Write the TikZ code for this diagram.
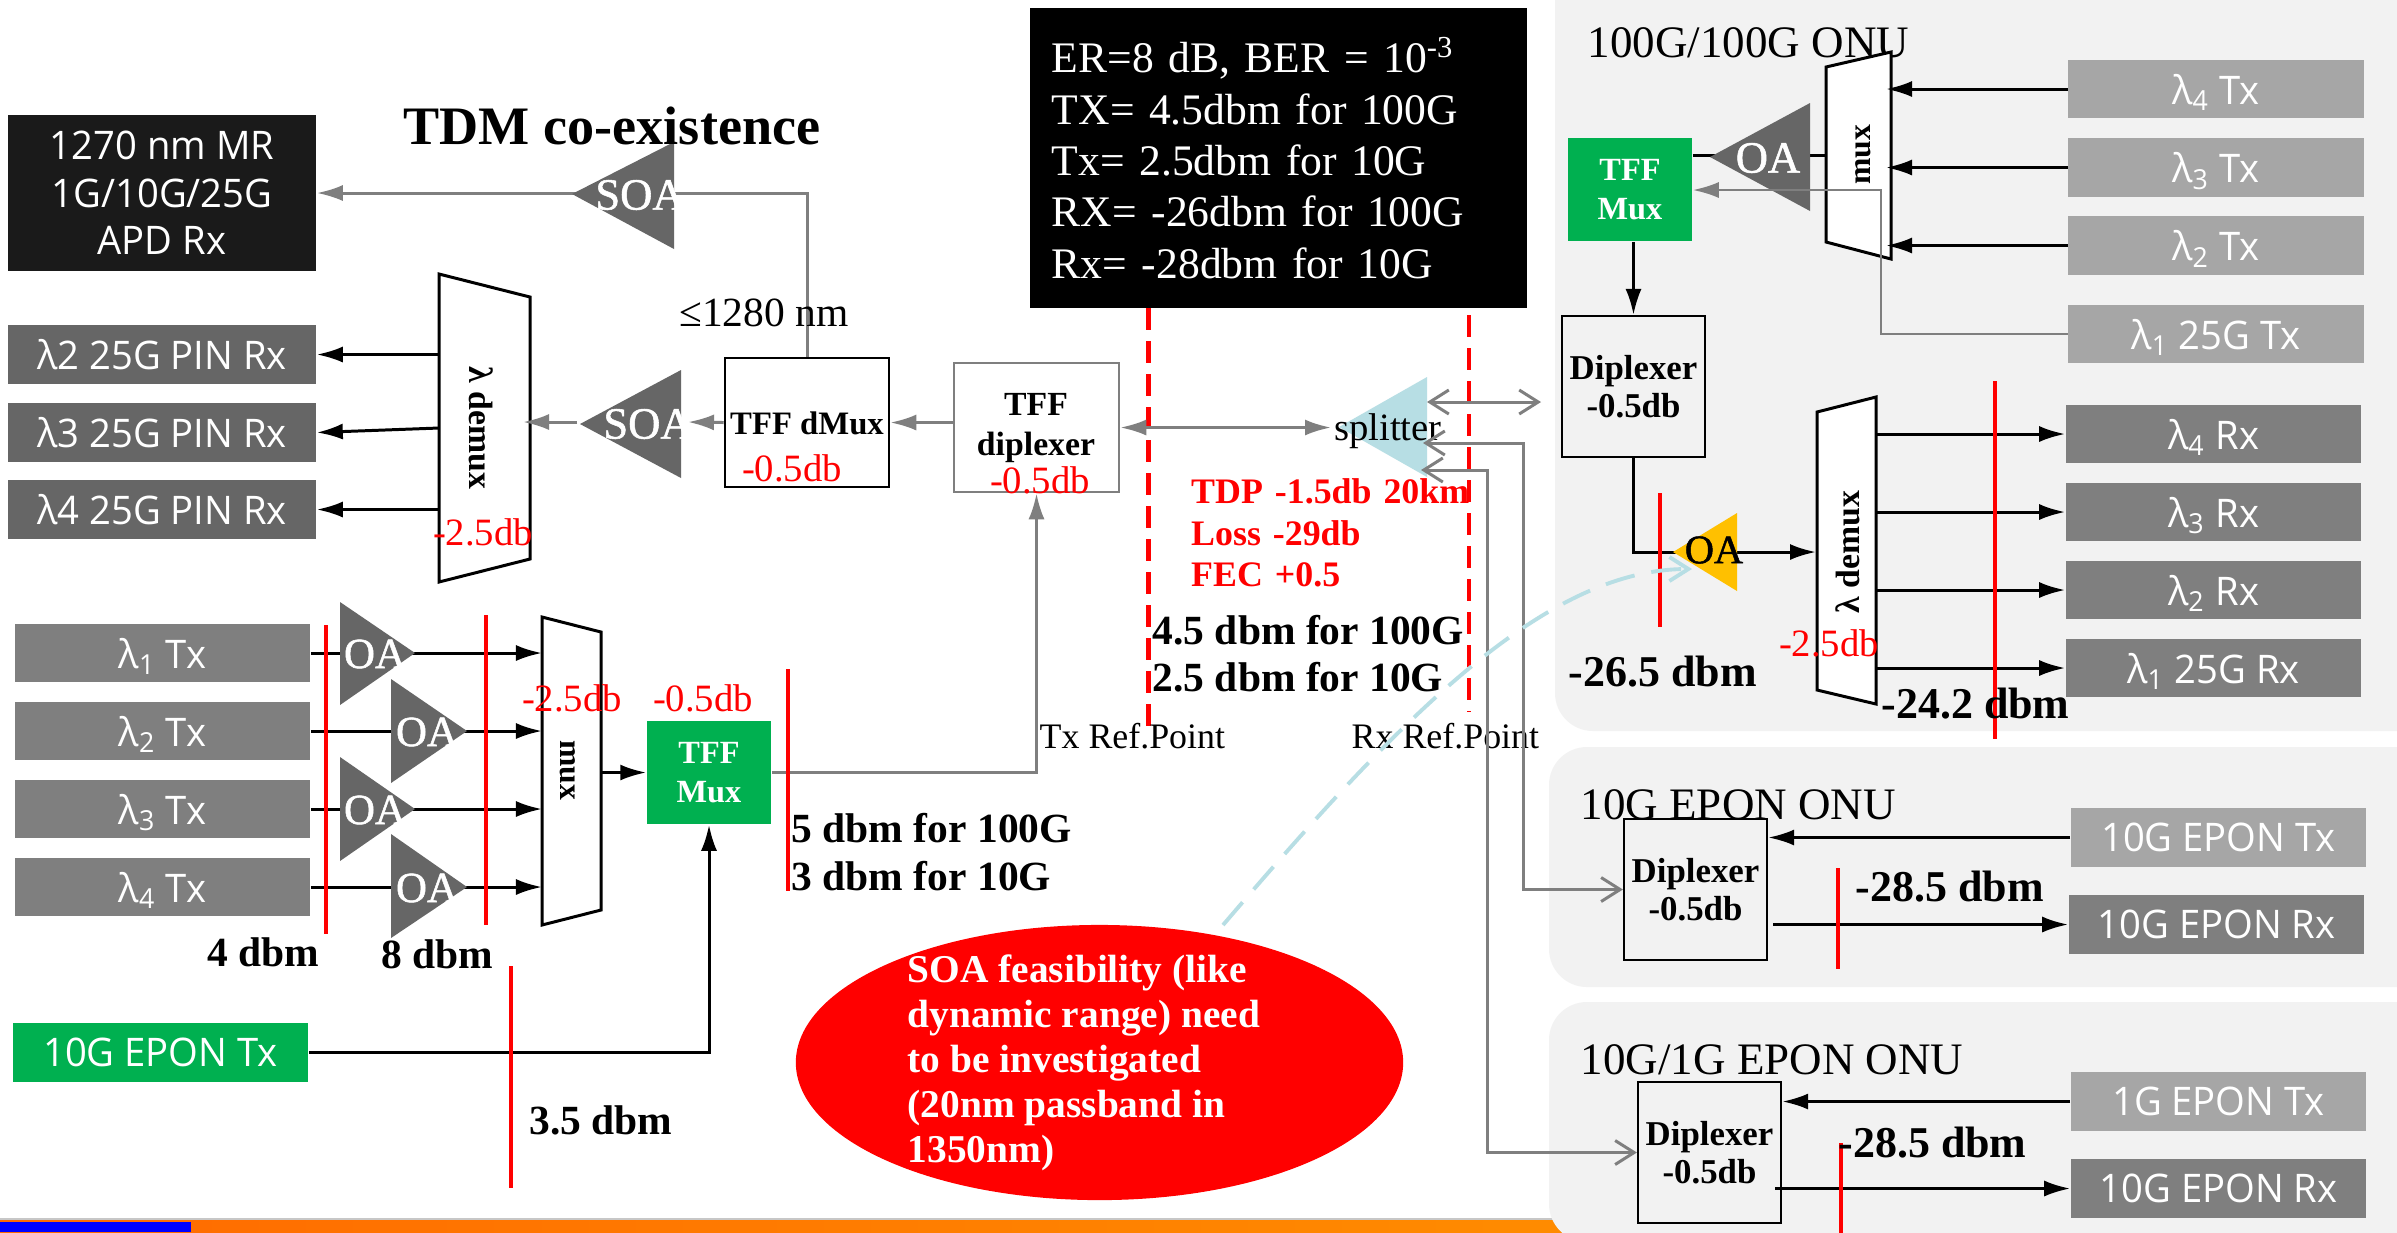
\documentclass[tikz,border=0pt]{standalone}
\usepackage{fontspec}
\setmainfont{Liberation Serif}
\newfontfamily\boxfont[FakeStretch=0.97]{Open Sans}
\newfontfamily\ampfont[FakeBold=1.2]{Liberation Serif}
\usepackage{xcolor}
\usepackage{tikz}
\usetikzlibrary{arrows.meta,positioning,calc,shapes.geometric}
\definecolor{ink}{RGB}{0,0,0}
\definecolor{midgray}{RGB}{127,127,127}
\definecolor{lightbox}{RGB}{166,166,166}
\definecolor{darkbox}{RGB}{102,102,102}
\definecolor{mrbox}{RGB}{26,26,26}
\definecolor{tffgreen}{RGB}{0,176,80}
\definecolor{panel}{RGB}{242,242,242}
\definecolor{ampgold}{RGB}{255,192,0}
\definecolor{splitblue}{RGB}{183,222,228}
\definecolor{barorange}{RGB}{255,140,0}
\definecolor{deeporange}{RGB}{255,106,0}
\tikzset{
  sigline/.style={line width=.85pt,ink,-{Latex[length=2.6mm,width=1.6mm]}},
  plainline/.style={line width=.85pt,ink},
  grayline/.style={line width=.85pt,midgray,-{Latex[length=2.6mm,width=1.6mm]}},
  grayboth/.style={line width=.85pt,midgray,{Latex[length=2.6mm,width=1.6mm]}-{Latex[length=2.6mm,width=1.6mm]}},
  openboth/.style={line width=.85pt,midgray,{Straight Barb[length=1.9mm,width=2.4mm]}-{Straight Barb[length=1.9mm,width=2.4mm]}},
  refcut/.style={line width=1pt,red},
  refdash/.style={line width=1.3pt,red,dash pattern=on .22cm off .11cm},
  note/.style={line width=1.1pt,splitblue,dash pattern=on .3cm off .17cm,-{Straight Barb[length=1.9mm,width=2.4mm]}},
  muxshape/.style={line width=.85pt,ink,fill=white},
  ampfill/.style={fill=darkbox},
  boxtext/.style={font=\boxfont\fontsize{11.2}{13.5}\selectfont,text=white,align=center,inner sep=0pt},
  txleft/.style={boxtext,text depth=0pt,fill=midgray,minimum width=2.95cm,minimum height=.58cm},
  rxleft/.style={boxtext,text depth=0pt,fill=darkbox,minimum width=3.08cm,minimum height=.59cm},
  txright/.style={boxtext,text depth=0pt,fill=lightbox,minimum width=2.95cm,minimum height=.585cm},
  rxright/.style={boxtext,text depth=0pt,fill=midgray,minimum width=2.95cm,minimum height=.585cm},
  tffbox/.style={fill=tffgreen,text=white,font=\fontsize{9.2}{11.2}\selectfont\bfseries,align=center,inner sep=0pt},
  dipbox/.style={draw=ink,line width=.6pt,font=\fontsize{9.9}{11}\selectfont\bfseries,align=center,inner sep=0pt,
    minimum width=1.43cm,minimum height=1.41cm},
  redsmall/.style={font=\fontsize{11}{13}\selectfont,text=red,inner sep=0pt},
  dbmtext/.style={font=\fontsize{11.8}{13}\selectfont\bfseries,text=ink,inner sep=0pt},
  rxdbm/.style={font=\fontsize{12.5}{14}\selectfont\bfseries,text=ink,inner sep=0pt},
  onutitle/.style={font=\fontsize{12.8}{14}\selectfont,text=ink,inner sep=0pt,anchor=west},
  ampname/.style={font=\ampfont\fontsize{12.2}{14}\selectfont,text=white,inner sep=0pt},
  soaname/.style={font=\ampfont\fontsize{12.7}{14}\selectfont,text=white,inner sep=0pt},
  muxname/.style={font=\fontsize{9.6}{11}\selectfont\bfseries,text=ink,inner sep=0pt},
  reftext/.style={font=\fontsize{10.2}{12}\selectfont,text=ink,inner sep=0pt}
}
\begin{document}
\begin{tikzpicture}[x=0.01cm,y=-0.01cm]
  \path[use as bounding box] (0,0) rectangle (2397,1232);
  \clip (0,0) rectangle (2397,1232);
  \fill[white] (0,0) rectangle (2397,1232);
  % slide footer
  \fill[black!22] (0,1218) rectangle (2397,1220);
  \shade[left color=deeporange,right color=barorange] (0,1220) rectangle (1600,1232);
  \fill[blue] (0,1222) rectangle (191,1232);
  % ONU panels
  \fill[panel,rounded corners=.38cm] (1555,-60) rectangle (2460,731);
  \fill[panel,rounded corners=.38cm] (1549,747) rectangle (2460,987);
  \fill[panel,rounded corners=.38cm] (1549,1002) rectangle (2460,1242);

  % OLT receive side
  \node[boxtext,fill=mrbox,minimum width=3.08cm,minimum height=1.56cm] (mrrx) at (162,193)
    {1270 nm MR\\1G/10G/25G\\APD Rx};
  \node[rxleft] (rxb) at (162,354.5) {λ2 25G PIN Rx};
  \node[rxleft] (rxc) at (162,432.5) {λ3 25G PIN Rx};
  \node[rxleft] (rxd) at (162,509.5) {λ4 25G PIN Rx};
  \node[draw=ink,line width=.7pt,minimum width=1.64cm,minimum height=1.29cm,inner sep=0pt] (dmx) at (807,422.5) {};
  \node[font=\fontsize{9.3}{11}\selectfont\bfseries,inner sep=0pt] (dmxname) at (807,423) {TFF dMux};
  \node[redsmall] (dmxloss) at (792,468) {-0.5db};
  \node[draw=midgray,line width=.7pt,minimum width=1.65cm,minimum height=1.29cm,inner sep=0pt] (dipl) at (1036.5,427.5) {};
  \node[font=\fontsize{9.6}{11.2}\selectfont\bfseries,align=center,inner sep=0pt] (diplname) at (1036,428) {TFF\\diplexer};
  \node[redsmall] (diplloss) at (1040,480) {-0.5db};
  \coordinate (dma) at (439,274);
  \coordinate (dmb) at (530,297);
  \coordinate (dmc) at (530,559);
  \coordinate (dmd) at (439,582);
  \coordinate (dmmid) at (439,428);
  \coordinate (dmtip) at (523,422);
  \coordinate (soabr) at (688,422);
  \coordinate (soabl) at (577,422);
  \draw[muxshape] (dma)--(dmb)--(dmc)--(dmd)--cycle;
  \node[muxname,rotate=-90] (dmname) at (481,428) {λ demux};
  \node[redsmall] (dmloss) at (483,532) {-2.5db};
  \draw[grayline] (dmx.north) |- (mrrx.east);
  \fill[ampfill] (572,194)--(674,142)--(674,249)--cycle;
  \node[soaname] (soaa) at (640,195) {SOA};
  \draw[grayline] (dipl.west |- dmx.east) -- (dmx.east);
  \draw[grayline] (dmx.west) -- (soabr);
  \draw[grayline] (soabl) -- (dmtip);
  \fill[ampfill] (580,424)--(681,370)--(681,478)--cycle;
  \node[soaname] (soab) at (648,424) {SOA};
  \draw[sigline] (rxb.east -| dma) -- (rxb.east);
  \draw[sigline] (dmmid) -- (rxc.east);
  \draw[sigline] (rxd.east -| dma) -- (rxd.east);
  \node[font=\fontsize{15.4}{17}\selectfont\bfseries,inner sep=0pt] (title) at (612,126) {TDM co-existence};
  \node[font=\fontsize{11.8}{14}\selectfont,inner sep=0pt] (band) at (764,313) {≤1280 nm};

  % OLT transmit side
  \node[txleft] (txa) at (162.5,653) {λ\textsubscript{1} Tx};
  \node[txleft] (txb) at (162.5,731) {λ\textsubscript{2} Tx};
  \node[txleft] (txc) at (162.5,809) {λ\textsubscript{3} Tx};
  \node[txleft] (txd) at (162.5,887) {λ\textsubscript{4} Tx};
  \coordinate (mxa) at (542,617);
  \coordinate (mxb) at (601,632);
  \coordinate (mxc) at (601,910);
  \coordinate (mxd) at (542,925);
  \node[tffbox,minimum width=1.24cm,minimum height=1.03cm] (tmux) at (709,772.5) {TFF\\Mux};
  \node[boxtext,fill=tffgreen,minimum width=2.95cm,minimum height=.59cm] (epontx) at (160.5,1052.5) {10G EPON Tx};
  \draw[sigline] (txa.east) -- (txa.east -| mxa);
  \draw[sigline] (txb.east) -- (txb.east -| mxa);
  \draw[sigline] (txc.east) -- (txc.east -| mxa);
  \draw[sigline] (txd.east) -- (txd.east -| mxa);
  \draw[muxshape] (mxa)--(mxb)--(mxc)--(mxd)--cycle;
  \node[muxname,font=\fontsize{9}{11}\selectfont\bfseries,rotate=-90] (mxname) at (568,770) {mux};
  \fill[ampfill] (340,602)--(415,653)--(340,705)--cycle;
  \fill[ampfill] (391,679)--(467,731)--(391,783)--cycle;
  \fill[ampfill] (340,757)--(415,809)--(340,861)--cycle;
  \fill[ampfill] (391,834)--(467,887)--(391,938)--cycle;
  \node[ampname] (oaa) at (375,654) {OA};
  \node[ampname] (oab) at (427,732) {OA};
  \node[ampname] (oac) at (375,810) {OA};
  \node[ampname] (oad) at (427,888) {OA};
  \draw[sigline] (mxb |- tmux.west) -- (tmux.west);
  \draw[sigline] (epontx.east) -| (tmux.south);
  \draw[grayline] (tmux.east) -| (dipl.south);
  \draw[refcut] (326,625) -- (326,934);
  \draw[refcut] (486,615) -- (486,925);
  \draw[refcut] (788,669) -- (788,891);
  \draw[refcut] (511,966) -- (511,1188);
  \node[redsmall] (mxloss) at (572,698) {-2.5db};
  \node[redsmall] (tmuxloss) at (703,698) {-0.5db};
  \node[dbmtext] (dbma) at (263,952) {4 dbm};
  \node[dbmtext] (dbmb) at (437,954) {8 dbm};
  \node[dbmtext] (dbmc) at (601,1120) {3.5 dbm};
  \node[dbmtext,anchor=west] (dbmd) at (791,828) {5 dbm for 100G};
  \node[dbmtext,anchor=west] (dbme) at (791,876) {3 dbm for 10G};

  % budget box and feeder
  \node[fill=ink,text=white,font=\fontsize{12.4}{14.6}\selectfont,align=left,inner sep=0pt,
    minimum width=4.97cm,minimum height=3cm,text width=4.53cm] (budget) at (1278.5,158)
    {ER=8 dB, BER = 10\textsuperscript{-3}\\TX= 4.5dbm for 100G\\Tx= 2.5dbm for 10G\\RX= -26dbm for 100G\\Rx= -28dbm for 10G};
  \coordinate (txrefa) at (1148.5,308);
  \coordinate (txrefb) at (1148.5,732);
  \coordinate (rxrefa) at (1469,315);
  \coordinate (rxrefb) at (1469,712);
  \draw[refdash] (txrefa) -- (txrefb);
  \draw[refdash] (rxrefa) -- (rxrefb);
  \fill[splitblue] (1339,427)--(1427,377)--(1427,477)--cycle;
  \coordinate (spin) at (1331,427.5);
  \draw[grayboth] (dipl.east) -- (spin);
  \node[font=\fontsize{11}{13}\selectfont,inner sep=0pt] (splitter) at (1388,431) {splitter};
  \node[font=\fontsize{10.2}{11.8}\selectfont\bfseries,text=red,align=left,anchor=west,inner sep=0pt,text width=2.9cm] (fiber) at (1190.5,533)
    {TDP -1.5db 20km\\Loss -29db\\FEC +0.5};
  \node[dbmtext,anchor=west] (dbmf) at (1152,630) {4.5 dbm for 100G};
  \node[dbmtext,anchor=west] (dbmg) at (1152,677) {2.5 dbm for 10G};
  \node[reftext,anchor=west] (txref) at (1039,736) {Tx Ref.Point};
  \node[reftext,anchor=west] (rxref) at (1351,736) {Rx Ref.Point};

  % 100G/100G ONU
  \node[onutitle,font=\fontsize{12.8}{14}\selectfont] (onua) at (1587,43) {100G/100G ONU};
  \node[tffbox,minimum width=1.24cm,minimum height=1.03cm] (tfo) at (1630,189.5) {TFF\\Mux};
  \node[txright] (txoa) at (2216,89) {λ\textsubscript{4} Tx};
  \node[txright] (txob) at (2216,167.5) {λ\textsubscript{3} Tx};
  \node[txright] (txoc) at (2216,245.5) {λ\textsubscript{2} Tx};
  \node[txright] (txod) at (2216,334) {λ\textsubscript{1} 25G Tx};
  \node[dipbox] (dio) at (1633.5,386.5) {Diplexer\\-0.5db};
  \coordinate (oma) at (1826,67);
  \coordinate (omb) at (1891,52);
  \coordinate (omc) at (1891,259);
  \coordinate (omd) at (1826,242);
  \coordinate (omin) at (1826,155);
  \coordinate (omr) at (1886,150);
  \coordinate (ombend) at (1881,190);
  \draw[plainline] (tfo.east |- omin) -- (omin);
  \fill[ampfill] (1710,157)--(1810,103)--(1810,211)--cycle;
  \node[soaname] (oao) at (1768,158) {OA};
  \draw[muxshape] (oma)--(omb)--(omc)--(omd)--cycle;
  \node[muxname,font=\fontsize{9}{11}\selectfont\bfseries,rotate=90] (omname) at (1863,155) {mux};
  \draw[sigline] (txoa.west) -- (txoa.west -| omr);
  \draw[sigline] (txob.west) -- (txob.west -| omr);
  \draw[sigline] (txoc.west) -- (txoc.west -| omr);
  \draw[grayline,line width=.7pt] (txod.west) -| (ombend) -- (ombend -| tfo.east);
  \draw[sigline] (tfo.south -| dio) -- (dio.north);
  \coordinate (oda) at (1817,412);
  \coordinate (odb) at (1876,397);
  \coordinate (odc) at (1876,704);
  \coordinate (odd) at (1817,690);
  \coordinate (odin) at (1816,552);
  \coordinate (odr) at (1876,550);
  \node[rxright] (rxoa) at (2213.5,434) {λ\textsubscript{4} Rx};
  \node[rxright] (rxob) at (2213.5,512) {λ\textsubscript{3} Rx};
  \node[rxright] (rxoc) at (2213.5,590) {λ\textsubscript{2} Rx};
  \node[rxright] (rxod) at (2213.5,668) {λ\textsubscript{1} 25G Rx};
  \draw[sigline] (dio.south) |- (odin);
  \fill[ampgold] (1673,552)--(1737,513)--(1737,591)--cycle;
  \node[font=\ampfont\fontsize{11.5}{13}\selectfont,inner sep=0pt] (oay) at (1714,550) {OA};
  \draw[muxshape] (oda)--(odb)--(odc)--(odd)--cycle;
  \node[muxname,rotate=90] (odname) at (1848,552) {λ demux};
  \draw[sigline] (odr |- rxoa.west) -- (rxoa.west);
  \draw[sigline] (odr |- rxob.west) -- (rxob.west);
  \draw[sigline] (odr |- rxoc.west) -- (rxoc.west);
  \draw[sigline] (odr |- rxod.west) -- (rxod.west);
  \draw[refcut] (1660,493) -- (1660,627);
  \draw[refcut] (1995,381) -- (1995,739);
  \node[redsmall] (odloss) at (1829,643) {-2.5db};
  \node[rxdbm] (dbmh) at (1663,672) {-26.5 dbm};
  \node[rxdbm] (dbmi) at (1975.5,704) {-24.2 dbm};

  % 10G EPON ONU
  \node[onutitle] (onub) at (1580,805) {10G EPON ONU};
  \node[dipbox] (ndi) at (1695.5,889.5) {Diplexer\\-0.5db};
  \node[boxtext,fill=lightbox,minimum width=2.95cm,minimum height=.59cm] (ntx) at (2218.5,837.5) {10G EPON Tx};
  \node[boxtext,fill=midgray,minimum width=2.95cm,minimum height=.59cm] (nrx) at (2216.5,924.5) {10G EPON Rx};
  \coordinate (ndo) at (1773,924.5);
  \draw[sigline] (ntx.west) -- (ntx.west -| ndi.east);
  \draw[sigline] (ndo) -- (nrx.west);
  \draw[refcut] (1838,868) -- (1838,969);
  \node[rxdbm] (dbmj) at (1950,887) {-28.5 dbm};

  % 10G/1G EPON ONU
  \node[onutitle] (onuc) at (1580,1060) {10G/1G EPON ONU};
  \node[dipbox] (xdi) at (1709.5,1152.5) {Diplexer\\-0.5db};
  \node[boxtext,fill=lightbox,minimum width=2.95cm,minimum height=.59cm] (xtx) at (2218.5,1101.5) {1G EPON Tx};
  \node[boxtext,fill=midgray,minimum width=2.95cm,minimum height=.59cm] (xrx) at (2218.5,1188.5) {10G EPON Rx};
  \coordinate (xdo) at (1775,1188.5);
  \draw[sigline] (xtx.west) -- (xtx.west -| xdi.east);
  \draw[sigline] (xdo) -- (xrx.west);
  \draw[refcut] (1841,1143) -- (1841,1240);
  \node[rxdbm] (dbmk) at (1932.5,1143) {-28.5 dbm};

  % drop fibres from the splitter
  \coordinate (opa) at (1427,402);
  \coordinate (opb) at (1541,402);
  \coordinate (spb) at (1423,443);
  \coordinate (bendb) at (1523,443);
  \coordinate (spc) at (1421,470);
  \coordinate (bendc) at (1487,470);
  \draw[openboth] (opa) -- (opb);
  \draw[openboth] (spb) -- (bendb) |- (ndi.west);
  \draw[openboth] (spc) -- (bendc) |- (xdi.west);

  % SOA remark
  \node[ellipse,fill=red,minimum width=6.07cm,minimum height=2.75cm,inner sep=0pt] (remark) at (1099.5,1062.5) {};
  \node[font=\fontsize{11.2}{12.8}\selectfont\bfseries,text=white,align=left,anchor=west,inner sep=0pt] (remarktext) at (907,1063)
    {SOA feasibility (like\\dynamic range) need\\to be investigated\\(20nm passband in\\1350nm)};
  \coordinate (notea) at (1223,925);
  \coordinate (noteb) at (1692,569);
  \draw[note] (notea) .. controls (1390,730) and (1540,569) .. (noteb);
\end{tikzpicture}
\end{document}
